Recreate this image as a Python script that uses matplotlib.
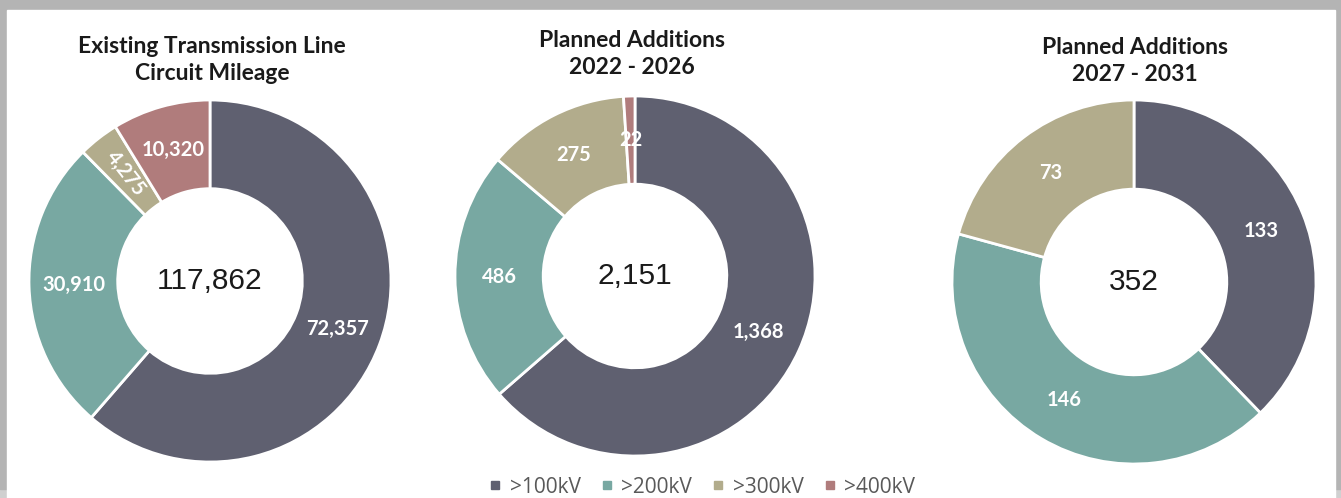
import matplotlib.pyplot as plt
from matplotlib.patches import Rectangle
import numpy as np

# circuit miles by voltage class
classes = ['>100kV', '>200kV', '>300kV', '>400kV']
colors = ['#5f6070', '#78a8a2', '#b2ac8c', '#b07c7c']

existing = [72357, 30910, 4275, 10320]
planned_2022_2026 = [1368, 486, 275, 22]
planned_2027_2031 = [133, 146, 73]

titles = ['Existing Transmission Line\nCircuit Mileage',
          'Planned Additions\n2022 - 2026',
          'Planned Additions\n2027 - 2031']

W, H = 1341, 498
fig = plt.figure(figsize=(W / 100, H / 100), dpi=100)

# screenshot-style frame
fig.add_artist(Rectangle((0, 0), 1, 1, transform=fig.transFigure, color='#d0d0d0', zorder=-10))
fig.add_artist(Rectangle((0, 9.5 / H), 1, 1, transform=fig.transFigure, color='#b4b4b4', zorder=-9))
fig.add_artist(Rectangle((7 / W, 0), 1328 / W, (H - 10) / H, transform=fig.transFigure,
                         color='white', zorder=-8))


def donut(cx, cy, r, values, rot_small=None):
    ax = fig.add_axes([(cx - r) / W, (H - cy - r) / H, 2 * r / W, 2 * r / H])
    wedges, _ = ax.pie(values, colors=colors[:len(values)], startangle=90, counterclock=False,
                       radius=1, wedgeprops=dict(width=0.49, edgecolor='white', linewidth=2))
    ax.set_xlim(-1, 1)
    ax.set_ylim(-1, 1)
    for w, v in zip(wedges, values):
        mid = np.deg2rad((w.theta1 + w.theta2) / 2)
        rot = 0
        if rot_small is not None and v == rot_small:
            rot = np.rad2deg(mid) - 180
        ax.text(0.755 * np.cos(mid), 0.755 * np.sin(mid), f'{v:,}', ha='center', va='center',
                color='white', fontsize=14.5, fontweight='bold', family='Lato', rotation=rot)
    ax.text(0, 0, f'{sum(values):,}', ha='center', va='center', fontsize=21.5,
            family='Liberation Sans', color='#1a1a1a')
    return ax


ax1 = donut(210, 281, 181, existing, rot_small=4275)
ax2 = donut(635, 276, 180, planned_2022_2026)
ax3 = donut(1134, 282, 182, planned_2027_2031)

for (x, y), t in zip([(212, 60), (632, 54), (1135, 61)], titles):
    fig.text(x / W, 1 - y / H, t, ha='center', va='center', fontsize=16.5, fontweight='bold',
             family='Lato', color='#1a1a1a', linespacing=1.3)

handles = [plt.Line2D([], [], marker='s', linestyle='', markersize=5.5, color=c) for c in colors]
fig.legend(handles, classes, loc='center', bbox_to_anchor=(702 / W, 1 - 487 / H), ncol=4,
           frameon=False, labelcolor='#595959', handlelength=0.6, handletextpad=0.4,
           columnspacing=0.95, prop={'family': 'Open Sans', 'size': 15})

fig.savefig('out.png', dpi=100)
